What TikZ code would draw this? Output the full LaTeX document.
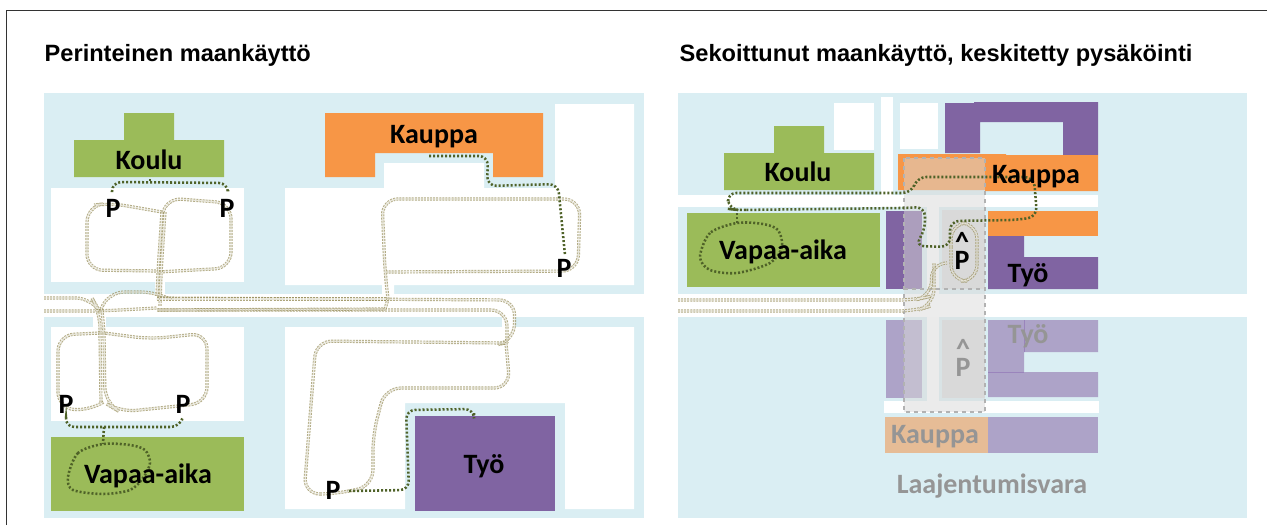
\documentclass[tikz,border=0pt]{standalone}
\usepackage{fontspec}
\setmainfont{Carlito}
\newfontfamily\titlefont{Liberation Sans}
\definecolor{panelblue}{HTML}{DAEEF3}
\definecolor{koulugreen}{HTML}{9BBB59}
\definecolor{kauppaorange}{HTML}{F79646}
\definecolor{tyopurple}{HTML}{8064A2}
\definecolor{fadepurple}{HTML}{ADA3C8}
\definecolor{fadeorange}{HTML}{E6BC96}
\definecolor{fadeline}{HTML}{9A84BC}
\definecolor{fadetext}{HTML}{959595}
\definecolor{parkgrey}{HTML}{D9D9D9}
\definecolor{walkgreen}{HTML}{4F6228}
\definecolor{cartan}{HTML}{948A54}
\tikzset{
    panel/.style={fill=panelblue, draw=none},
    lot/.style={fill=white, draw=none},
    heading/.style={font=\titlefont\bfseries\fontsize{17.7}{20}\selectfont, anchor=west},
    place/.style={font=\bfseries\fontsize{21}{24}\selectfont},
    fadeplace/.style={place, text=fadetext},
    parkmark/.style={font=\bfseries\fontsize{21}{14}\selectfont, align=center, inner sep=0pt},
    walk/.style={draw=walkgreen, line width=1.9pt, dash pattern=on 1.5pt off 1.5pt, rounded corners=7pt},
    walkloop/.style={draw=walkgreen, line width=1.9pt, dash pattern=on 1.5pt off 1.5pt},
    drive/.style={draw=cartan, line width=0.7pt, double=white, double distance=1pt, dash pattern=on 1.5pt off 0.8pt, rounded corners=12pt, opacity=0.7},
}
\begin{document}
\begin{tikzpicture}[x=0.75pt, y=-0.75pt]
    \useasboundingbox (0, 0) rectangle (1267, 525);

    \draw [black!80, line width=0.9pt] (6.5, 525) -- (6.5, 10.5) -- (1267, 10.5);

    \node [heading] (title1) at (40, 55) {Perinteinen maankäyttö};
    \node [heading] (title2) at (675, 55) {Sekoittunut maankäyttö, keskitetty pysäköinti};

    % left panel
    \fill [panel] (44, 93) rectangle (644, 294);
    \fill [panel] (44, 317) rectangle (644, 518);
    \fill [lot] (51, 188) rectangle (244, 282);
    \fill [lot] (155, 282) rectangle (165, 294);
    \fill [lot] (285, 188) -- (384, 188) -- (384, 163) -- (484, 163) -- (484, 188) -- (555, 188)
        -- (555, 104) -- (634, 104) -- (634, 285) -- (394, 285) -- (394, 294) -- (382, 294)
        -- (382, 285) -- (285, 285) -- cycle;
    \fill [lot] (93, 317) rectangle (106, 327);
    \fill [lot] (51, 327) rectangle (244, 421);
    \fill [lot] (502, 317) rectangle (515, 327);
    \fill [lot] (285, 327) -- (634, 327) -- (634, 509) -- (565, 509) -- (565, 403)
        -- (405, 403) -- (405, 509) -- (285, 509) -- cycle;

    \fill [koulugreen] (124, 113) -- (174, 113) -- (174, 140) -- (224, 140) -- (224, 177)
        -- (74, 177) -- (74, 140) -- (124, 140) -- cycle;
    \fill [kauppaorange] (325, 113) -- (543, 113) -- (543, 177) -- (493, 177) -- (493, 153)
        -- (375, 153) -- (375, 177) -- (325, 177) -- cycle;
    \fill [koulugreen] (51, 437) rectangle (244, 511);
    \fill [tyopurple] (415, 416) rectangle (555, 511);

    % right panel
    \fill [panel] (678, 93) rectangle (1247, 294);
    \fill [panel] (678, 317) rectangle (1247, 518);
    \fill [lot] (678, 195) rectangle (1098, 207);
    \fill [lot] (881, 97) rectangle (893, 195);
    \fill [lot] (834, 103) rectangle (874, 150);
    \fill [lot] (900, 103) rectangle (938, 149);
    \fill [lot] (927, 207) rectangle (939, 294);
    \fill [lot] (927, 317) rectangle (939, 401);
    \fill [lot] (884, 401) rectangle (1099, 413);

    \fill [tyopurple] (945, 103) -- (974, 103) -- (974, 102) -- (1098, 102) -- (1098, 155)
        -- (1063, 155) -- (1063, 122) -- (980, 122) -- (980, 153) -- (945, 153) -- cycle;
    \fill [kauppaorange] (898, 154) -- (1006, 154) -- (1006, 155) -- (1098, 155) -- (1098, 191)
        -- (985, 191) -- (985, 190) -- (898, 190) -- cycle;
    \fill [kauppaorange] (988, 211) rectangle (1098, 236);
    \fill [tyopurple] (988, 236) -- (1024, 236) -- (1024, 257) -- (1098, 257) -- (1098, 289)
        -- (988, 289) -- cycle;
    \fill [tyopurple] (886, 211) rectangle (922, 289);
    \fill [koulugreen] (774, 126) -- (824, 126) -- (824, 153) -- (874, 153) -- (874, 190)
        -- (724, 190) -- (724, 153) -- (774, 153) -- cycle;
    \fill [koulugreen] (687, 213) rectangle (880, 287);
    \fill [parkgrey] (942, 210) rectangle (985, 289);

    \fill [fadepurple] (886, 320) rectangle (922, 398);
    \fill [parkgrey] (942, 320) rectangle (985, 398);
    \fill [fadepurple] (988, 320) -- (1098, 320) -- (1098, 352) -- (1024, 352) -- (1024, 372)
        -- (1098, 372) -- (1098, 397) -- (988, 397) -- cycle;
    \draw [fadeline, line width=0.5pt] (1024, 320) -- (1024, 352);
    \draw [fadeline, line width=0.5pt] (988, 372) -- (1024, 372);
    \fill [fadeorange] (885, 417) rectangle (988, 453);
    \fill [fadepurple] (988, 417) rectangle (1098, 453);

    % parking overlay
    \fill [parkgrey, opacity=0.5] (904, 158) rectangle (985, 412);
    \draw [black!30, line width=1pt, dashed] (904, 158) rectangle (985, 412);
    \draw [black!30, line width=1pt, dashed] (904, 289) -- (985, 289);

    % car routes, left
    \draw [drive] (162, 212) -- (110, 203) -- (87, 206) -- (87, 270) -- (158, 271);
    \draw [drive] (163, 212) -- (165, 198) -- (231, 203) -- (231, 268) -- (158, 272);
    \draw [drive] (162, 212) -- (158, 272) -- (157, 296);
    \draw [drive] (165, 212) -- (161, 272) -- (160, 306);
    \draw [drive] (44, 298) -- (92, 298) -- (100, 312) -- (100, 333);
    \draw [drive] (44, 311) -- (101, 311) -- (157, 308);
    \draw [drive] (100, 312) -- (108, 292) -- (157, 292) -- (170, 299);
    \draw [drive] (102, 310) -- (104, 333);
    \draw [drive] (100, 333) -- (58, 335) -- (58, 408) -- (90, 411) -- (102, 403);
    \draw [drive] (100, 333) -- (101, 403);
    \draw [drive] (104, 333) -- (105, 403) -- (120, 412) -- (207, 403) -- (207, 333) -- (150, 339) -- (104, 333);
    \draw [drive] (157, 298) -- (515, 300) -- (514, 341) -- (505, 343);
    \draw [drive] (158, 310) -- (507, 310) -- (507, 343);
    \draw [drive] (157, 299) -- (388, 299);
    \draw [drive] (157, 310) -- (385, 309);
    \draw [drive] (388, 299) -- (385, 272) -- (382, 199) -- (580, 199) -- (578, 271) -- (385, 272);
    \draw [drive] (385, 309) -- (388, 299);
    \draw [drive] (505, 343) -- (316, 341) -- (304, 494) -- (335, 494) -- (373, 486) -- (373, 435)
        -- (385, 388) -- (510, 388) -- (506, 343);

    % car routes, right
    \draw [drive] (951, 247) -- (951, 281) -- (977, 281) -- (977, 223) -- (951, 223) -- (951, 247);
    \draw [drive] (678, 300) -- (915, 300) -- (932, 296) -- (931, 263) -- (947, 263);
    \draw [drive] (678, 311) -- (915, 311) -- (934, 305) -- (934, 263);

    % walking routes
    \draw [walk] (112, 192) -- (112, 182) -- (228, 183) -- (228, 190);
    \draw [walk] (150, 179) -- (150, 183);
    \draw [walk] (429, 156) -- (488, 156) -- (487, 186) -- (558, 184) -- (565, 255);
    \draw [walk] (474, 413) -- (474, 409) -- (406, 410) -- (409, 490) -- (347, 491);
    \draw [walk] (66, 418) -- (65, 427) -- (180, 427) -- (182, 420);
    \draw [walk] (104, 427) -- (103, 444);
    \draw [walkloop] plot [smooth cycle] coordinates {(103, 444) (78, 453) (68, 477) (73, 490) (103, 494)
        (130, 490) (143, 478) (150, 463) (145, 450) (130, 445)};
    \draw [walkloop] plot [smooth cycle] coordinates {(737, 223) (710, 233) (700, 257) (710, 270) (737, 273)
        (770, 263) (782, 247) (778, 230) (763, 224)};
    \draw [walk] (737, 223) -- (737, 210);
    \draw [walk] (737, 210) -- (903, 208) -- (925, 207) -- (925, 230) -- (915, 246) -- (950, 247)
        -- (950, 221) -- (1015, 220) -- (1037, 217) -- (1034, 177) -- (917, 177) -- (912, 193)
        -- (727, 193) -- (729, 209) -- cycle;

    % labels
    \node [place] (koulu1) at (149, 160) {Koulu};
    \node [place] (kauppa1) at (434, 137) {Kauppa};
    \node [place] (vapaa1) at (148, 476) {Vapaa-aika};
    \node [place] (tyo1) at (484, 466) {Työ};
    \node [place] (p1) at (113, 208) {P};
    \node [place] (p2) at (227, 208) {P};
    \node [place] (p3) at (564, 268) {P};
    \node [place] (p4) at (66, 404) {P};
    \node [place] (p5) at (183, 404) {P};
    \node [place] (p6) at (333, 490) {P};

    \node [place] (koulu2) at (798, 172) {Koulu};
    \node [place] (kauppa2) at (1036, 177) {Kauppa};
    \node [place] (vapaa2) at (783, 252) {Vapaa-aika};
    \node [place] (tyo2) at (1028, 275) {Työ};
    \node [parkmark] (p7) at (962, 251) {\textasciicircum\\P};
    \node [fadeplace] (tyo3) at (1028, 336) {Työ};
    \node [parkmark, text=fadetext] (p8) at (963, 358) {\textasciicircum\\P};
    \node [fadeplace] (kauppa3) at (935, 437) {Kauppa};
    \node [fadeplace] (varaus) at (992, 486) {Laajentumisvara};
\end{tikzpicture}
\end{document}
